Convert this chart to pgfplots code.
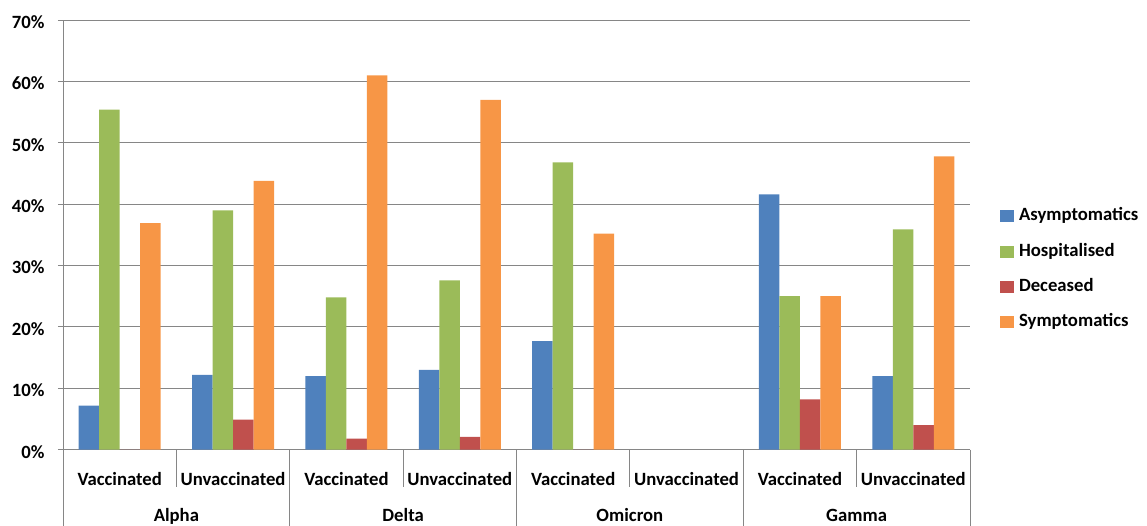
\documentclass[border=0pt]{standalone}
\usepackage{pgfplots}
\pgfplotsset{compat=1.18}
\usepackage{fontspec}
\setmainfont{Carlito}

\definecolor{asym}{HTML}{4F81BD}
\definecolor{hosp}{HTML}{9BBB59}
\definecolor{dec}{HTML}{C0504D}
\definecolor{symp}{HTML}{F79646}
\definecolor{gridc}{HTML}{868686}

\newcommand\lbl{\fontsize{18.7}{22}\selectfont\bfseries}

\pgfplotsset{
  sqleg/.style={legend image code/.code={\fill[##1] (0pt,-6pt) rectangle (14pt,6pt);}}
}

\begin{document}
\begin{tikzpicture}
\begin{axis}[
  name=ax,
  scale only axis, width=907pt, height=429.7pt,
  xmin=0, xmax=8, ymin=0, ymax=70,
  ybar=0pt, bar width=20.5pt,
  axis x line=bottom, axis y line=left,
  axis line style={-, draw=gridc, line width=0.9pt},
  ytick={0,10,...,70},
  yticklabels={0\%,10\%,20\%,30\%,40\%,50\%,60\%,70\%},
  ymajorgrids, grid style={draw=gridc, line width=0.9pt},
  major tick length=5pt, tick align=outside,
  ytick style={draw=gridc, line width=0.9pt},
  xtick={0.5,1.5,...,7.5},
  xticklabels={Vaccinated,Unvaccinated,Vaccinated,Unvaccinated,Vaccinated,Unvaccinated,Vaccinated,Unvaccinated},
  xtick style={draw=none},
  ticklabel style={font=\lbl},
  xticklabel style={anchor=base, yshift=-30.5pt},
  yticklabel style={anchor=east, xshift=-10pt, yshift=-2pt},
  clip=false,
  legend style={at={(1.0296,0.420)}, anchor=west, draw=none, fill=none,
    font=\lbl, row sep=18.3pt,
    nodes={inner sep=0pt, text height=13pt, text depth=4pt},
    /tikz/every odd column/.append style={column sep=5pt}},
  legend cell align=left,
]
% x = 0.5 ... 7.5 : Alpha, Delta, Omicron, Gamma (vaccinated / unvaccinated)
\addplot[fill=asym, draw=none, sqleg] coordinates {
  (0.5,7.2) (1.5,12.2) (2.5,12.0) (3.5,13.0) (4.5,17.7) (6.5,41.6) (7.5,12.0)};
\addplot[fill=hosp, draw=none, sqleg] coordinates {
  (0.5,55.4) (1.5,39.0) (2.5,24.8) (3.5,27.6) (4.5,46.8) (6.5,25.0) (7.5,35.9)};
\addplot[fill=dec, draw=none, sqleg] coordinates {
  (0.5,0) (1.5,4.9) (2.5,1.8) (3.5,2.1) (4.5,0) (6.5,8.2) (7.5,4.0)};
\addplot[fill=symp, draw=none, sqleg] coordinates {
  (0.5,36.9) (1.5,43.8) (2.5,61.0) (3.5,57.0) (4.5,35.2) (6.5,25.0) (7.5,47.8)};
\legend{Asymptomatics,Hospitalised,Deceased,Symptomatics}

% category separators below the axis
\draw[gridc, line width=0.9pt] (axis cs:0,0) -- ++(0pt,-76pt);
\draw[gridc, line width=0.9pt] (axis cs:2,0) -- ++(0pt,-76pt);
\draw[gridc, line width=0.9pt] (axis cs:4,0) -- ++(0pt,-76pt);
\draw[gridc, line width=0.9pt] (axis cs:6,0) -- ++(0pt,-76pt);
\draw[gridc, line width=0.9pt] (axis cs:8,0) -- ++(0pt,-76pt);
\draw[gridc, line width=0.9pt] (axis cs:1,0) -- ++(0pt,-37.5pt);
\draw[gridc, line width=0.9pt] (axis cs:3,0) -- ++(0pt,-37.5pt);
\draw[gridc, line width=0.9pt] (axis cs:5,0) -- ++(0pt,-37.5pt);
\draw[gridc, line width=0.9pt] (axis cs:7,0) -- ++(0pt,-37.5pt);

% variant names
\node[font=\lbl, anchor=base, yshift=-72pt] at (axis cs:1,0) {Alpha};
\node[font=\lbl, anchor=base, yshift=-72pt] at (axis cs:3,0) {Delta};
\node[font=\lbl, anchor=base, yshift=-72pt] at (axis cs:5,0) {Omicron};
\node[font=\lbl, anchor=base, yshift=-72pt] at (axis cs:7,0) {Gamma};
\end{axis}
\pgfresetboundingbox
\path (ax.south west) ++(-63pt,-75.3pt) rectangle ++(1147pt,525pt);
\end{tikzpicture}
\end{document}
